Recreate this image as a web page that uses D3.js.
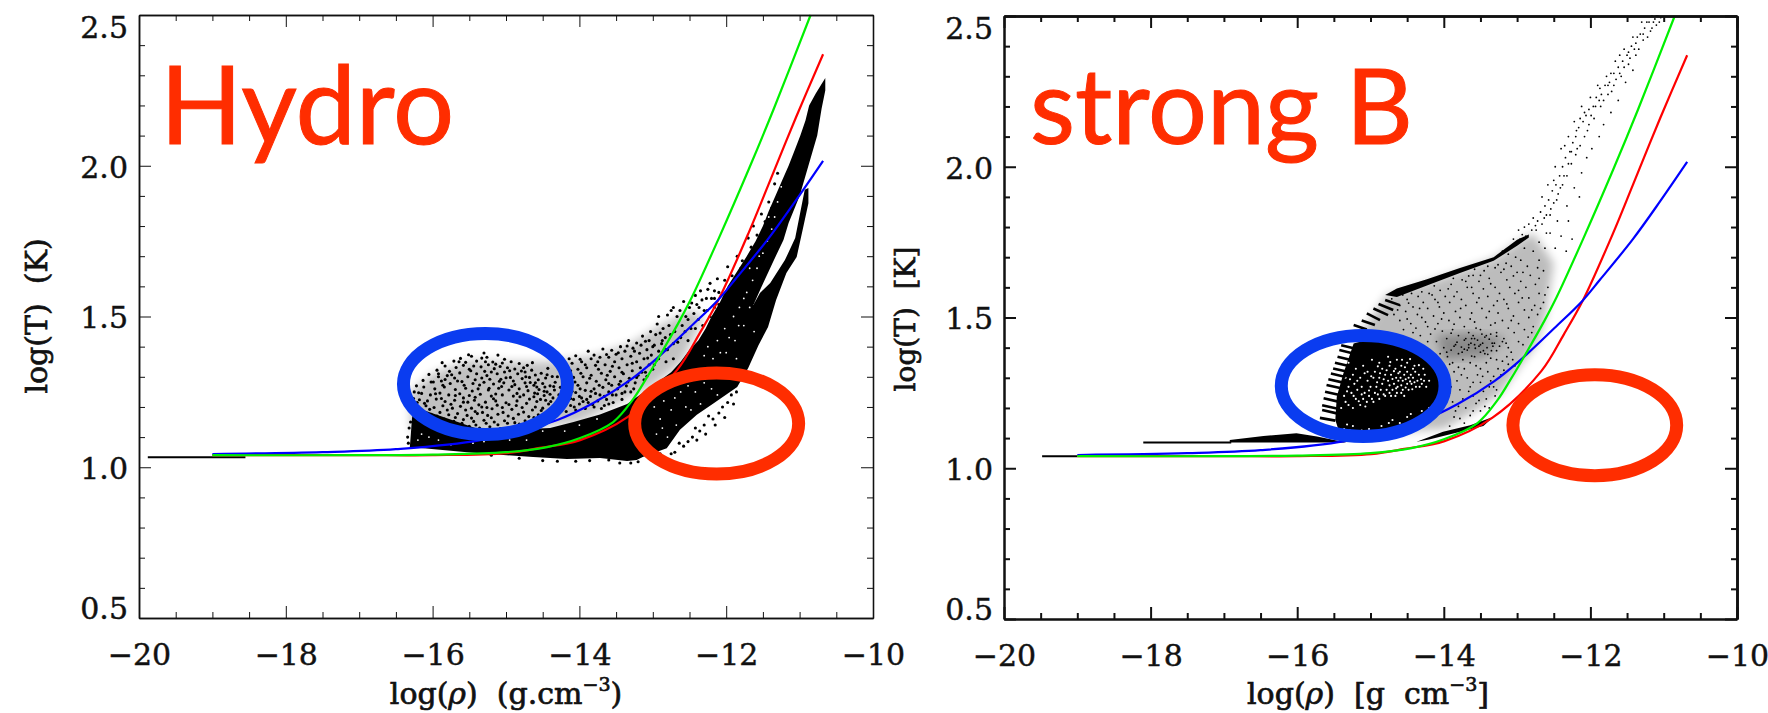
<!DOCTYPE html>
<html>
<head>
<meta charset="utf-8">
<script src="https://cdn.jsdelivr.net/npm/d3@7"></script>
<style>
    body { margin: 0; background: #fff; }
    text { font-family: "DejaVu Serif", serif; fill: #111; white-space: pre; }
    .tick text { stroke: #111; stroke-width: 0.45; }
    .title { font-family: Lato, sans-serif; fill: #ff2d00; stroke: #ff2d00; stroke-width: 1; }
</style>
</head>
<body>
<div id="chart"></div>
<script>
// Axis ticks
var xMajor = [-20, -18, -16, -14, -12, -10];
var xMinor = [-19.5, -19, -18.5, -17.5, -17, -16.5, -15.5, -15, -14.5, -13.5, -13, -12.5, -11.5, -11, -10.5];
var yMajor = [0.5, 1.0, 1.5, 2.0, 2.5];
var yMinor = [0.6, 0.7, 0.8, 0.9, 1.1, 1.2, 1.3, 1.4, 1.6, 1.7, 1.8, 1.9, 2.1, 2.2, 2.3, 2.4];

// Model curves, the same in both panels [log rho, log T]
var greenCurve = [[-19, 1.04], [-17, 1.04], [-16, 1.042], [-15, 1.05], [-14.44, 1.067], [-13.99, 1.097], [-13.54, 1.15], [-13.27, 1.225], [-13.08, 1.298], [-12.86, 1.389], [-12.63, 1.488], [-12.46, 1.568], [-12.1, 1.76], [-11.69, 1.99], [-11.35, 2.19], [-10.85, 2.5]];
var redCurve = [[-19, 1.04], [-17, 1.04], [-16, 1.04], [-14.99, 1.047], [-14.54, 1.064], [-13.99, 1.09], [-13.34, 1.167], [-12.67, 1.322], [-12.36, 1.445], [-12.1, 1.558], [-11.69, 1.78], [-11.42, 1.94], [-11.05, 2.16], [-10.68, 2.37]];
var blueCurve = [[-19, 1.044], [-17.5, 1.05], [-16.5, 1.06], [-15.35, 1.09], [-14.3, 1.157], [-13.81, 1.213], [-13.31, 1.289], [-12.94, 1.362], [-12.49, 1.465], [-12.11, 1.555], [-11.87, 1.625], [-11.42, 1.76], [-11.05, 1.885], [-10.68, 2.016]];

// Hand drawn rings [centre log rho, centre log T, radius in log rho, radius in log T]
var leftRings = [[-15.28, 1.276, 1.117, 0.1675, "#0a3cf0"], [-12.13, 1.145, 1.117, 0.1675, "#ff2d00"]];
var rightRings = [[-15.10, 1.273, 1.117, 0.1675, "#0a3cf0"], [-11.94, 1.143, 1.117, 0.1675, "#ff2d00"]];

// Cold flat parts of the tracks
var leftFlat = [[[-19.88, 1.033], [-18.55, 1.033]]];
var rightFlat = [[[-19.48, 1.04], [-19, 1.04]], [[-18.1, 1.085], [-16.9, 1.085]]];

// Solid black part of the hydro cloud, outline
var leftSolid = [[-16.31, 1.067], [-16.28, 1.163], [-16.25, 1.2], [-15.3, 1.12], [-14.4, 1.13], [-14.08, 1.15], [-13.72, 1.175], [-13.35, 1.21], [-13.0, 1.27], [-12.75, 1.315], [-12.62, 1.35], [-12.5, 1.39], [-12.38, 1.42], [-12.28, 1.46], [-12.2, 1.5], [-12.08, 1.55], [-11.98, 1.6], [-11.85, 1.65], [-11.72, 1.7], [-11.6, 1.75], [-11.5, 1.8], [-11.42, 1.85], [-11.33, 1.9], [-11.24, 1.95], [-11.15, 2.0], [-11.07, 2.05], [-10.99, 2.1], [-10.92, 2.15], [-10.87, 2.2], [-10.78, 2.24], [-10.65, 2.291], [-10.65, 2.25], [-10.7, 2.19], [-10.76, 2.1], [-10.88, 2.0], [-11.0, 1.9], [-11.15, 1.81], [-11.22, 1.754], [-11.37, 1.677], [-11.52, 1.598], [-11.63, 1.538], [-11.54, 1.578], [-11.4, 1.611], [-11.2, 1.687], [-11.06, 1.76], [-10.93, 1.92], [-10.88, 1.926], [-10.88, 1.876], [-10.95, 1.797], [-11.04, 1.697], [-11.18, 1.644], [-11.32, 1.555], [-11.43, 1.465], [-11.56, 1.405], [-11.7, 1.329], [-11.85, 1.266], [-12.17, 1.212], [-12.4, 1.174], [-12.63, 1.124], [-12.81, 1.063], [-13.13, 1.035], [-13.22, 1.024], [-13.35, 1.021], [-13.72, 1.031], [-14.17, 1.027], [-14.63, 1.034], [-14.99, 1.04], [-15.53, 1.05]];

// Soft tone behind the loose dots of the hydro cloud
var leftHaze = [[-16.3, 1.25], [-16.0, 1.31], [-15.5, 1.355], [-15.0, 1.35], [-14.4, 1.35], [-13.8, 1.37], [-13.3, 1.41], [-12.9, 1.47], [-12.5, 1.52], [-12.3, 1.5], [-12.6, 1.35], [-13.0, 1.27], [-14.0, 1.15], [-15.0, 1.12], [-16.3, 1.12]];

// Single dots of the hydro cloud
var leftDots = [
[-15.62,1.361],[-15.47,1.368],[-15.3,1.379],[-15.26,1.365],[-15.11,1.372],[-15.02,1.358],[-15.71,1.352],[-15.55,1.348],[-15.4,1.352],[-15.18,1.349],[-14.93,1.35],[-14.82,1.344],[-14.71,1.338],[-15.83,1.336],[-15.68,1.331],[-15.58,1.338],[-15.34,1.333],[-15.24,1.34],[-15.08,1.334],[-14.98,1.33],[-14.88,1.326],[-14.65,1.322],[-15.94,1.322],[-15.77,1.318],[-15.63,1.313],[-15.48,1.32],[-15.4,1.31],[-15.2,1.316],[-15.12,1.31],[-15.02,1.316],[-14.84,1.31],[-14.74,1.316],[-14.6,1.306],[-14.52,1.312],
[-16.05,1.308],[-15.92,1.3],[-15.8,1.304],[-15.7,1.296],[-15.52,1.3],[-15.33,1.296],[-15.26,1.304],[-15.07,1.292],[-14.94,1.298],[-14.78,1.294],[-14.68,1.298],[-14.56,1.29],[-14.46,1.296],[-16.13,1.288],[-16.02,1.283],[-15.88,1.286],[-15.76,1.278],[-15.6,1.284],[-15.45,1.278],[-15.3,1.282],[-15.17,1.276],[-15.03,1.28],[-14.88,1.274],[-14.74,1.28],[-14.62,1.272],[-14.5,1.278],[-14.4,1.27],
[-16.22,1.27],[-16.12,1.266],[-15.97,1.26],[-15.84,1.266],[-15.69,1.258],[-15.55,1.262],[-15.38,1.26],[-15.24,1.256],[-15.1,1.262],[-14.96,1.256],[-14.82,1.26],[-14.7,1.254],[-14.55,1.258],[-14.44,1.25],[-14.34,1.256],[-16.25,1.25],[-16.15,1.245],[-16.03,1.24],[-15.9,1.246],[-15.78,1.24],[-15.63,1.244],[-15.5,1.238],[-15.35,1.242],[-15.2,1.236],[-15.05,1.24],[-14.9,1.236],[-14.76,1.24],[-14.62,1.234],[-14.48,1.238],[-14.36,1.23],
[-16.26,1.228],[-16.18,1.224],[-16.07,1.22],[-15.95,1.226],[-15.83,1.218],[-15.7,1.222],[-15.58,1.216],[-15.43,1.222],[-15.28,1.216],[-15.14,1.22],[-15.0,1.214],[-14.85,1.22],[-14.72,1.212],[-14.58,1.218],[-14.42,1.21],[-16.28,1.206],[-16.2,1.2],[-16.09,1.204],[-15.98,1.198],[-15.86,1.204],[-15.73,1.196],[-15.62,1.202],[-15.47,1.196],[-15.33,1.2],[-15.19,1.194],[-15.05,1.198],[-14.92,1.192],[-14.78,1.198],[-14.64,1.19],[-14.5,1.196],
[-16.25,1.184],[-16.13,1.18],[-16.02,1.176],[-15.9,1.182],[-15.78,1.174],[-15.66,1.178],[-15.53,1.172],[-15.39,1.178],[-15.25,1.172],[-15.11,1.176],[-14.97,1.17],[-14.83,1.176],[-14.69,1.168],[-14.56,1.174],[-16.1,1.16],[-15.97,1.155],[-15.84,1.16],[-15.71,1.152],[-15.58,1.158],[-15.44,1.152],[-15.3,1.156],[-15.16,1.15],[-15.02,1.154],[-14.88,1.148],[-14.74,1.154],[-16.2,1.14],[-15.92,1.135],[-15.77,1.138],[-15.64,1.132],[-15.5,1.136],[-15.36,1.13],[-15.22,1.134],[-15.08,1.128],[-14.94,1.132],
[-15.66,1.286],[-15.22,1.292],[-14.9,1.286],[-15.5,1.325],[-15.14,1.342],[-14.76,1.33],[-14.58,1.266],[-15.06,1.268],[-15.42,1.29],[-15.86,1.272],[-15.96,1.244],[-15.58,1.23],[-15.12,1.206],[-14.68,1.226],[-14.4,1.242],[-14.46,1.222],[-15.42,1.185],[-14.6,1.2],
[-14.3,1.368],[-14.14,1.36],[-14.05,1.37],[-13.88,1.385],[-13.8,1.372],[-13.68,1.392],[-13.56,1.388],[-13.44,1.4],[-13.33,1.42],[-13.22,1.412],[-13.14,1.435],[-13.03,1.45],[-12.94,1.475],[-12.86,1.46],[-14.22,1.34],[-14.1,1.345],[-13.97,1.35],[-13.84,1.36],[-13.72,1.365],[-13.6,1.365],[-13.5,1.375],[-13.38,1.385],[-13.27,1.395],[-13.16,1.405],[-13.05,1.42],[-12.96,1.44],[-12.83,1.43],
[-14.24,1.315],[-14.12,1.32],[-14.02,1.325],[-13.9,1.33],[-13.78,1.338],[-13.65,1.34],[-13.52,1.35],[-13.42,1.36],[-13.3,1.368],[-13.18,1.378],[-13.08,1.39],[-12.98,1.405],[-12.88,1.41],[-14.2,1.29],[-14.08,1.298],[-13.95,1.3],[-13.84,1.305],[-13.7,1.312],[-13.58,1.318],[-13.46,1.33],[-13.35,1.34],[-13.22,1.35],[-13.12,1.36],[-13.02,1.372],[-12.92,1.385],[-14.26,1.265],[-14.14,1.27],[-14.02,1.272],[-13.9,1.28],[-13.77,1.285],[-13.64,1.29],[-13.52,1.3],[-13.4,1.31],[-13.28,1.32],[-13.17,1.33],[-13.05,1.34],[-12.95,1.355],
[-14.28,1.24],[-14.15,1.245],[-14.05,1.248],[-13.92,1.255],[-13.8,1.26],[-13.68,1.265],[-13.56,1.272],[-13.44,1.285],[-13.32,1.295],[-13.2,1.305],[-13.1,1.315],[-13.0,1.325],[-14.2,1.22],[-14.08,1.225],[-13.97,1.23],[-13.85,1.235],[-13.72,1.24],[-13.6,1.25],[-13.48,1.26],[-13.36,1.27],[-13.24,1.28],[-13.12,1.29],[-14.25,1.2],[-14.12,1.205],[-14.0,1.21],[-13.88,1.215],[-13.75,1.22],[-13.63,1.225],[-13.5,1.24],[-13.38,1.25],[-13.26,1.26],[-14.3,1.18],[-14.18,1.185],[-14.05,1.19],[-13.92,1.195],[-13.8,1.2],[-13.66,1.205],[-13.54,1.215],[-13.42,1.225],
[-12.75,1.52],[-12.67,1.5],[-12.58,1.55],[-12.5,1.53],[-12.42,1.57],[-12.35,1.585],[-12.27,1.56],[-12.22,1.61],[-12.16,1.585],[-12.12,1.625],[-12.78,1.47],[-12.7,1.45],[-12.6,1.47],[-12.52,1.49],[-12.44,1.51],[-12.37,1.53],[-12.3,1.52],[-12.2,1.56],[-12.1,1.58],[-12.02,1.62],[-12.82,1.39],[-12.72,1.41],[-12.62,1.43],[-12.52,1.42],[-12.42,1.46],[-12.32,1.47],[-12.22,1.5],[-12.1,1.54],
[-11.98,1.665],[-11.92,1.635],[-11.85,1.7],[-11.78,1.685],[-11.7,1.76],[-11.63,1.8],[-11.58,1.77],[-11.52,1.84],[-11.47,1.815],[-11.42,1.88],[-11.38,1.86],[-11.34,1.94],[-11.3,1.975],[-11.86,1.62],[-11.8,1.66],[-11.66,1.73],
[-12.05,1.2],[-11.98,1.215],[-11.93,1.24],[-11.86,1.25],[-12.1,1.18],[-12.18,1.16],[-12.24,1.17],[-12.3,1.14],[-12.36,1.12],[-12.42,1.13],[-12.46,1.1],[-12.52,1.085],[-12.58,1.07],[-12.64,1.08],[-12.7,1.05],[-12.75,1.045],[-12.15,1.14],[-12.28,1.11],[-12.4,1.09],[-12.02,1.165],[-11.9,1.21],
[-16.33,1.08],[-16.34,1.1],[-16.32,1.13],[-16.3,1.15],[-15.2,1.04],[-14.82,1.03],[-14.5,1.022],[-14.3,1.02],[-14.05,1.02],[-13.86,1.022],[-13.6,1.024],[-13.45,1.014],[-13.3,1.014],[-13.2,1.018],[-13.05,1.03],[-12.9,1.045],
[-15.87,1.347],[-15.51,1.373],[-15.44,1.336],[-15.33,1.362],[-15.16,1.327],[-15.05,1.346],[-14.79,1.319],[-14.64,1.347],[-14.43,1.328],[-14.37,1.301],[-15.99,1.283],[-16.19,1.247],[-15.74,1.307],[-15.57,1.272],[-15.46,1.253],[-15.29,1.318],[-15.14,1.243],[-15.0,1.297],[-14.85,1.245],[-14.67,1.281],[-14.53,1.225],[-14.33,1.282],[-14.47,1.266],[-16.11,1.212],[-15.88,1.228],[-15.75,1.209],[-15.52,1.216],[-15.37,1.207],[-15.23,1.262],[-15.17,1.227],[-14.96,1.208],[-14.81,1.234],[-14.61,1.246],[-14.39,1.218],[-16.04,1.192],[-15.8,1.19],[-15.69,1.165],[-15.47,1.163],[-15.32,1.182],[-15.2,1.164],[-15.04,1.182],[-14.9,1.162],[-14.76,1.183],[-14.62,1.165],[-14.52,1.188],[-16.17,1.165],[-15.94,1.17],[-15.6,1.146],[-15.41,1.14],[-15.27,1.146],[-15.11,1.141],[-14.98,1.146],[-14.82,1.143],
[-15.92,1.31],[-15.83,1.291],[-15.36,1.273],[-14.92,1.268],[-14.57,1.244],[-14.6,1.28],[-14.44,1.307],[-15.64,1.35],[-15.28,1.35],[-15.09,1.285],[-15.42,1.232],[-14.73,1.3],[-14.95,1.32],[-15.55,1.19],[-15.26,1.198],[-14.86,1.205],[-15.69,1.238],[-16.21,1.215],[-14.72,1.268],[-14.35,1.268],[-14.48,1.252],
[-14.27,1.352],[-14.17,1.336],[-13.99,1.358],[-13.92,1.34],[-13.75,1.35],[-13.63,1.374],[-13.47,1.38],[-13.35,1.402],[-13.25,1.385],[-13.1,1.418],[-13.0,1.4],[-12.9,1.445],[-14.3,1.3],[-14.16,1.305],[-14.06,1.283],[-13.98,1.312],[-13.86,1.295],[-13.74,1.325],[-13.62,1.305],[-13.55,1.335],[-13.42,1.315],[-13.28,1.345],[-13.15,1.315],[-13.07,1.362],[-12.98,1.34],[-14.22,1.258],[-14.1,1.252],[-13.99,1.26],[-13.84,1.252],[-13.73,1.272],[-13.6,1.278],[-13.46,1.275],[-13.34,1.283],[-13.22,1.298],[-13.08,1.302],[-14.12,1.228],[-14.0,1.235],[-13.9,1.225],[-13.78,1.245],[-13.66,1.235],[-13.55,1.24],[-13.42,1.245],[-13.3,1.25],[-14.21,1.205],[-14.07,1.2],[-13.95,1.218],[-13.82,1.208],[-13.7,1.195],[-13.6,1.21],
[-12.92,1.5],[-12.8,1.505],[-12.72,1.53],[-12.63,1.52],[-12.55,1.5],[-12.47,1.545],[-12.4,1.54],[-12.33,1.555],[-12.25,1.59],[-12.16,1.56],[-12.76,1.44],[-12.66,1.415],[-12.56,1.45],[-12.48,1.46],[-12.38,1.49],[-12.26,1.52],[-12.16,1.53],[-12.87,1.42],[-12.8,1.39],[-12.92,1.36],[-12.82,1.35],[-12.72,1.36]
];

// White specks left in the solid part of the hydro cloud
var leftHoles = [
[-16.15,1.11],[-15.92,1.09],[-15.6,1.1],[-15.45,1.08],[-15.22,1.1],[-14.95,1.09],[-15.75,1.075],[-14.72,1.09],[-14.5,1.12],[-14.2,1.12],[-14.0,1.14],[-13.76,1.16],[-16.05,1.1],[-15.85,1.13],[-15.3,1.085],[-16.2,1.09],
[-12.9,1.16],[-12.85,1.22],[-12.75,1.19],[-12.62,1.25],[-12.55,1.2],[-12.42,1.25],[-12.45,1.3],[-12.3,1.28],[-12.2,1.26],[-12.95,1.11],[-12.8,1.1],[-12.68,1.14],[-12.48,1.19],[-12.6,1.29],[-12.98,1.2],[-12.7,1.23],[-12.35,1.21],[-12.52,1.27],[-12.26,1.3],[-12.12,1.24],[-12.87,1.13],
[-12.25,1.4],[-12.12,1.42],[-12.02,1.46],[-12.18,1.36],[-12.0,1.38],[-11.9,1.5],[-11.82,1.53],[-11.88,1.42],[-11.76,1.47],[-11.72,1.58],[-11.64,1.62],[-11.58,1.66],[-11.5,1.71],[-11.44,1.75],[-11.38,1.79],[-11.34,1.83],[-11.68,1.53],[-11.62,1.45],[-11.86,1.36],[-12.1,1.32],[-11.95,1.31],[-11.42,1.83],[-11.3,1.88],[-11.25,1.93],[-11.55,1.7],[-11.76,1.56],[-11.96,1.43],[-12.08,1.38],[-12.3,1.37],[-11.83,1.47],[-11.68,1.66]
];

// Hazy and solid parts of the strong B cloud
var rightHaze = [[-14.78, 1.575], [-14.23, 1.615], [-13.78, 1.655], [-13.32, 1.695], [-13.0, 1.75], [-12.78, 1.78], [-12.5, 1.68], [-12.6, 1.514], [-12.73, 1.414], [-13.0, 1.326], [-13.23, 1.248], [-13.55, 1.193], [-14.0, 1.13], [-14.8, 1.12], [-15.2, 1.42]];
var rightBand = [[-14.1, 1.44], [-13.6, 1.45], [-13.15, 1.43], [-13.45, 1.37], [-14.0, 1.36]];
var rightRidge = [[-14.8, 1.575], [-14.64, 1.596], [-14.23, 1.627], [-13.78, 1.664], [-13.32, 1.7], [-13.0, 1.758], [-12.84, 1.775], [-12.84, 1.765], [-13.0, 1.738], [-13.32, 1.688], [-13.78, 1.648], [-14.23, 1.606], [-14.64, 1.568]];
var rightCore = [[-15.48, 1.16], [-15.46, 1.237], [-15.37, 1.314], [-15.26, 1.392], [-15.23, 1.414], [-14.73, 1.447], [-14.2, 1.38], [-14.0, 1.259], [-14.28, 1.15], [-14.96, 1.104], [-15.42, 1.115]];
var rightBase = [[-16.92, 1.094], [-16.46, 1.107], [-16.01, 1.116], [-15.73, 1.105], [-15.33, 1.085], [-16.92, 1.085]];
var rightTail = [[-14.37, 1.088], [-14.01, 1.121], [-13.64, 1.143], [-13.32, 1.171], [-13.46, 1.14], [-13.83, 1.118], [-14.2, 1.095]];

// Comb of teeth along the left edge of the strong B cloud [x1, y1, x2, y2]
var rightTeeth = [[-15.69,1.167,-15.48,1.158],[-15.66,1.193,-15.46,1.182],[-15.66,1.209,-15.46,1.198],[-15.64,1.232,-15.44,1.221],[-15.62,1.254,-15.42,1.243],[-15.6,1.276,-15.4,1.265],[-15.575,1.295,-15.37,1.284],[-15.54,1.314,-15.34,1.303],[-15.51,1.331,-15.31,1.32],[-15.485,1.35,-15.28,1.338],[-15.45,1.37,-15.25,1.358],[-15.425,1.392,-15.22,1.38],[-15.4,1.408,-15.2,1.396],[-15.23,1.475,-15.05,1.46],[-15.12,1.49,-14.94,1.475],[-15.05,1.514,-14.87,1.491],[-14.96,1.53,-14.76,1.508],[-14.89,1.545,-14.69,1.525],[-14.8,1.558,-14.6,1.541]];

// Single dots of the strong B cloud
var rightDots = [
[-14.5,1.56],[-14.35,1.57],[-14.2,1.58],[-14.05,1.59],[-13.9,1.61],[-13.75,1.625],[-13.6,1.64],[-13.45,1.655],[-13.3,1.665],[-13.15,1.68],[-14.6,1.54],[-14.42,1.535],[-14.28,1.55],[-14.12,1.56],[-13.98,1.57],[-13.82,1.585],[-13.68,1.6],[-13.52,1.62],[-13.38,1.63],[-13.22,1.65],[-13.08,1.67],[-12.95,1.69],[-14.68,1.51],[-14.52,1.52],[-14.36,1.51],[-14.22,1.53],[-14.06,1.535],[-13.92,1.55],[-13.76,1.56],[-13.6,1.58],[-13.46,1.595],[-13.3,1.6],[-13.14,1.625],[-13.0,1.65],[-12.86,1.67],[-12.78,1.72],
[-14.6,1.49],[-14.45,1.48],[-14.3,1.5],[-14.14,1.505],[-14.0,1.515],[-13.84,1.52],[-13.7,1.54],[-13.55,1.55],[-13.4,1.57],[-13.24,1.58],[-13.1,1.6],[-12.95,1.62],[-12.82,1.64],[-12.7,1.69],[-12.62,1.73],[-14.55,1.46],[-14.38,1.465],[-14.22,1.47],[-14.08,1.48],[-13.93,1.49],[-13.78,1.5],[-13.62,1.515],[-13.48,1.53],[-13.32,1.54],[-13.18,1.56],[-13.03,1.58],[-12.88,1.6],[-12.75,1.61],[-12.64,1.655],
[-14.32,1.44],[-14.18,1.445],[-14.02,1.455],[-13.88,1.46],[-13.72,1.47],[-13.58,1.485],[-13.42,1.5],[-13.26,1.515],[-13.12,1.53],[-12.98,1.55],[-12.84,1.565],[-12.7,1.58],[-12.58,1.6],[-14.1,1.42],[-13.96,1.43],[-13.8,1.44],[-13.66,1.45],[-13.5,1.46],[-13.36,1.475],[-13.2,1.49],[-13.05,1.505],[-12.9,1.525],[-12.76,1.54],[-12.64,1.55],
[-14.0,1.4],[-13.84,1.41],[-13.72,1.425],[-13.58,1.43],[-13.42,1.44],[-13.28,1.45],[-13.12,1.465],[-12.98,1.48],[-12.84,1.5],[-12.72,1.51],[-13.95,1.37],[-13.8,1.38],[-13.66,1.4],[-13.5,1.41],[-13.34,1.415],[-13.18,1.43],[-13.04,1.45],[-12.9,1.46],[-12.78,1.47],
[-14.02,1.34],[-13.88,1.35],[-13.74,1.36],[-13.58,1.37],[-13.44,1.38],[-13.28,1.39],[-13.12,1.4],[-12.98,1.42],[-12.85,1.435],[-14.0,1.31],[-13.86,1.32],[-13.72,1.33],[-13.56,1.34],[-13.42,1.35],[-13.28,1.36],[-13.14,1.37],[-13.98,1.28],[-13.82,1.29],[-13.68,1.3],[-13.54,1.31],[-13.4,1.32],[-13.26,1.33],[-13.12,1.345],[-13.92,1.25],[-13.78,1.26],[-13.64,1.27],[-13.5,1.285],[-13.36,1.29],[-13.22,1.31],[-13.88,1.22],[-13.74,1.23],[-13.6,1.24],[-13.46,1.255],[-13.32,1.27],[-13.84,1.19],[-13.7,1.2],[-13.56,1.215],[-13.42,1.23],[-13.3,1.24],[-13.78,1.165],[-13.64,1.175],[-13.5,1.19],[-13.38,1.2],[-13.92,1.14],[-13.72,1.15],
[-12.98,1.79],[-12.9,1.8],[-12.84,1.81],[-12.78,1.83],[-12.72,1.82],[-12.68,1.85],[-12.62,1.87],[-12.66,1.9],[-12.57,1.89],[-12.52,1.92],[-12.58,1.94],[-12.47,1.94],[-12.42,1.97],[-12.48,2.0],[-12.38,2.0],[-12.34,2.03],[-12.4,2.06],[-12.28,2.05],[-12.24,2.08],[-12.3,2.1],[-12.2,2.1],[-12.16,2.13],[-12.22,2.15],[-12.1,2.15],[-12.06,2.17],[-12.12,2.2],[-12.02,2.19],[-11.96,2.2],[-12.0,2.23],[-11.92,2.23],[-11.85,2.24],[-11.9,2.27],[-11.8,2.27],[-11.74,2.28],[-11.78,2.3],[-11.68,2.31],[-11.62,2.33],[-11.66,2.35],[-11.56,2.35],[-11.5,2.37],[-11.54,2.39],[-11.44,2.4],[-11.38,2.41],[-11.42,2.43],[-11.32,2.44],[-11.26,2.46],[-11.3,2.48],[-11.2,2.48],[-11.16,2.5],[-11.12,2.49],[-11.08,2.5],[-11.04,2.495],
[-13.05,1.76],[-12.96,1.76],[-12.88,1.77],[-12.8,1.79],[-12.74,1.79],[-12.66,1.81],[-12.6,1.84],[-12.54,1.86],[-12.5,1.88],[-12.44,1.91],[-12.38,1.94],[-12.32,1.97],[-12.26,2.01],[-12.2,2.04],[-12.14,2.07],[-12.08,2.1],[-12.02,2.14],[-11.95,2.16],[-11.86,2.2],[-11.76,2.24],[-11.68,2.27],[-11.58,2.3],[-11.48,2.34],[-11.38,2.37],[-11.28,2.42],[-11.18,2.45],[-11.1,2.47],
[-12.55,1.78],[-12.45,1.82],[-12.4,1.77],[-12.32,1.87],[-12.3,1.82],[-12.22,1.93],[-12.15,1.9],[-12.12,1.98],[-12.05,2.03],[-11.98,2.06],[-11.88,2.1],[-11.82,2.14],[-11.72,2.18],[-11.62,2.22],[-11.52,2.28],[-11.42,2.32],[-12.7,1.75],[-12.6,1.78],[-12.25,1.76],[-12.33,1.72],[-12.48,1.73],
[-13.82,1.418],[-13.76,1.402],[-13.7,1.43],[-13.68,1.392],[-13.63,1.415],[-13.6,1.44],[-13.57,1.398],[-13.54,1.425],[-13.5,1.385],[-13.47,1.415],[-13.44,1.435],[-13.41,1.4],[-13.38,1.428],[-13.35,1.39],[-13.31,1.415],[-13.28,1.438],[-13.24,1.405],[-13.2,1.42],[-13.75,1.385],[-13.62,1.372],[-13.58,1.41],[-13.52,1.405],[-13.46,1.39],[-13.4,1.378],[-13.33,1.405],[-13.66,1.41],[-13.72,1.395],[-13.86,1.405],[-13.9,1.392],[-13.96,1.385],[-13.62,1.43],[-13.48,1.445],[-13.36,1.445],[-13.15,1.415],
[-14.44,1.58],[-14.13,1.605],[-13.87,1.63],[-13.58,1.66],[-13.2,1.72],[-14.56,1.575],[-14.3,1.585],[-13.66,1.638],[-13.4,1.67],[-13.12,1.71],[-14.71,1.562],[-14.48,1.548],[-14.16,1.575],[-13.94,1.595],[-13.7,1.62],[-13.5,1.64],[-13.26,1.675],[-13.18,1.66],[-13.02,1.7],[-12.9,1.73],[-14.63,1.525],[-14.33,1.53],[-14.08,1.55],[-13.86,1.57],[-13.62,1.6],[-13.36,1.612],[-13.05,1.638],[-12.92,1.65],[-12.72,1.665],[-14.5,1.495],[-14.25,1.485],[-14.03,1.495],[-13.77,1.53],[-13.52,1.565],[-13.27,1.555],[-12.98,1.59],[-12.7,1.63],[-14.42,1.45],[-14.12,1.462],[-13.86,1.478],[-13.64,1.495],[-13.38,1.52],[-13.14,1.545],[-12.93,1.565],[-12.62,1.575],[-14.22,1.42],[-13.9,1.448],[-13.56,1.465],[-13.3,1.482],[-13.08,1.49],[-12.8,1.525],[-12.68,1.53],
[-14.05,1.38],[-14.1,1.36],[-13.92,1.345],[-13.64,1.35],[-13.36,1.365],[-13.08,1.385],[-12.92,1.41],[-12.8,1.45],[-14.08,1.325],[-13.8,1.335],[-13.5,1.33],[-13.2,1.355],[-13.06,1.36],[-14.03,1.295],[-13.76,1.31],[-13.47,1.305],[-13.18,1.325],[-13.03,1.34],[-13.9,1.27],[-13.6,1.285],[-13.32,1.305],[-13.95,1.235],[-13.66,1.255],[-13.38,1.27],[-13.8,1.205],[-13.52,1.225],[-13.28,1.26],[-13.86,1.17],[-13.6,1.19],[-13.44,1.205],
[-12.93,1.775],[-12.75,1.805],[-12.63,1.83],[-12.55,1.84],[-12.46,1.89],[-12.5,1.955],[-12.41,1.93],[-12.36,1.97],[-12.3,2.01],[-12.35,2.07],[-12.26,2.05],[-12.18,2.06],[-12.19,2.12],[-12.14,2.16],[-12.08,2.18],[-12.04,2.12],[-11.99,2.17],[-11.93,2.2],[-11.88,2.22],[-11.87,2.26],[-11.82,2.22],[-11.76,2.27],[-11.71,2.25],[-11.72,2.31],[-11.65,2.29],[-11.6,2.31],[-11.6,2.37],[-11.54,2.33],[-11.48,2.38],[-11.46,2.36],[-11.4,2.39],[-11.36,2.43],[-11.34,2.39],[-11.28,2.44],[-11.23,2.48],[-11.22,2.43],[-11.16,2.46],[-11.14,2.48],[-11.1,2.5],[-11.06,2.48]
];

// White specks left in the solid core of the strong B cloud
var rightHoles = [
[-15.3,1.35],[-15.2,1.33],[-15.1,1.34],[-14.98,1.36],[-14.88,1.35],[-14.76,1.37],[-14.64,1.36],[-14.5,1.35],[-14.4,1.34],[-14.28,1.33],[-15.34,1.3],[-15.24,1.31],[-15.14,1.3],[-15.04,1.32],[-14.94,1.32],[-14.84,1.33],[-14.74,1.34],[-14.66,1.33],[-14.58,1.34],[-14.5,1.32],[-14.42,1.33],[-14.34,1.31],[-14.26,1.31],[-14.2,1.29],
[-15.3,1.27],[-15.22,1.28],[-15.12,1.27],[-15.04,1.29],[-14.96,1.3],[-14.88,1.3],[-14.8,1.31],[-14.72,1.31],[-14.65,1.3],[-14.6,1.32],[-14.54,1.31],[-14.48,1.3],[-14.42,1.3],[-14.36,1.29],[-14.3,1.28],[-14.24,1.27],[-15.26,1.25],[-15.18,1.26],[-15.08,1.25],[-15.0,1.27],[-14.92,1.27],[-14.84,1.28],[-14.76,1.29],[-14.68,1.28],[-14.62,1.29],[-14.56,1.29],[-14.5,1.28],[-14.44,1.28],[-14.38,1.27],
[-15.36,1.24],[-15.2,1.23],[-15.1,1.23],[-15.02,1.24],[-14.94,1.25],[-14.86,1.26],[-14.78,1.26],[-14.7,1.26],[-14.63,1.27],[-14.56,1.26],[-14.48,1.26],[-15.14,1.21],[-15.05,1.22],[-14.96,1.22],[-14.88,1.23],[-14.8,1.24],[-14.72,1.24],[-14.64,1.25],[-14.54,1.24],[-15.3,1.21],[-15.4,1.2],[-15.36,1.13],[-15.28,1.125],[-15.2,1.12],[-15.32,1.145],[-14.7,1.16],[-14.6,1.15],[-14.5,1.17],[-14.4,1.16],[-14.3,1.19],[-14.2,1.2],[-14.85,1.14],[-15.02,1.13],
[-14.73,1.352],[-14.57,1.36],[-14.46,1.362],[-14.34,1.342],[-14.62,1.315],[-14.53,1.335],[-14.45,1.31],[-14.39,1.32],[-14.31,1.295],[-14.68,1.322],[-14.78,1.325],[-14.9,1.338],[-15.08,1.315],[-15.18,1.29],[-15.28,1.295],[-14.99,1.305],[-14.87,1.315],[-14.7,1.296],[-14.59,1.3],[-14.52,1.295],[-14.46,1.288],[-14.4,1.285],[-14.33,1.27],[-14.27,1.29],[-14.58,1.275],[-14.65,1.265],[-14.74,1.275],[-14.82,1.295],[-14.91,1.285],[-15.02,1.258],[-15.12,1.245],[-15.23,1.24],[-15.32,1.255],[-14.52,1.268],[-14.43,1.262],[-14.82,1.245],[-14.9,1.245],[-14.98,1.23],[-15.07,1.205],[-15.16,1.222],[-14.66,1.24],[-14.58,1.25],[-14.74,1.25],[-15.24,1.2],[-15.34,1.22],[-15.3,1.11],[-15.24,1.14],[-15.12,1.125],[-14.92,1.12],[-14.75,1.15],[-14.45,1.18]
];

// Title, axis labels and y tick offsets
var leftTitle = "Hydro";
var rightTitle = "strong B";
var yTickShift = { "0.5": 0, "1.0": 11, "1.5": 11, "2.0": 12, "2.5": 22 };

function drawPanel(svg, p) {
    var x = d3.scaleLinear().domain([-20, -10]).range([p.left, p.right]);
    var y = d3.scaleLinear().domain([0.5, 2.5]).range([p.bottom, p.top]);

    var line = d3.line()
        .x(function(d) { return x(d[0]); })
        .y(function(d) { return y(d[1]); });
    var smooth = d3.line()
        .x(function(d) { return x(d[0]); })
        .y(function(d) { return y(d[1]); })
        .curve(d3.curveCatmullRom.alpha(0.5));

    // Soft tone under the dots
    svg.selectAll(null).data(p.haze).enter().append("path")
        .attr("d", function(d) { return line(d) + "Z"; })
        .attr("fill", "#000")
        .attr("opacity", p.hazeOpacity)
        .attr("filter", "url(#soft)");

    // Solid parts of the cloud
    svg.selectAll(null).data(p.solids).enter().append("path")
        .attr("d", function(d) { return line(d) + "Z"; })
        .attr("fill", "#000");

    svg.selectAll(null).data(p.holes).enter().append("circle")
        .attr("cx", function(d) { return x(d[0]); })
        .attr("cy", function(d) { return y(d[1]); })
        .attr("r", p.holeSize)
        .attr("fill", "#fff");

    svg.selectAll(null).data(p.dots).enter().append("circle")
        .attr("cx", function(d) { return x(d[0]); })
        .attr("cy", function(d) { return y(d[1]); })
        .attr("r", p.dotSize)
        .attr("fill", "#000");

    svg.selectAll(null).data(p.teeth).enter().append("line")
        .attr("x1", function(d) { return x(d[0]); })
        .attr("y1", function(d) { return y(d[1]); })
        .attr("x2", function(d) { return x(d[2]); })
        .attr("y2", function(d) { return y(d[3]); })
        .attr("stroke", "#000")
        .attr("stroke-width", 2.6);

    svg.selectAll(null).data(p.flat).enter().append("path")
        .attr("d", line)
        .attr("fill", "none")
        .attr("stroke", "#000")
        .attr("stroke-width", 2);

    // Model curves
    [[redCurve, "#ff0000"], [blueCurve, "#0000ff"], [greenCurve, "#00f000"]].forEach(function(c) {
        svg.append("path")
            .attr("d", smooth(c[0]))
            .attr("fill", "none")
            .attr("stroke", c[1])
            .attr("stroke-width", 2.2);
    });

    // Axes with ticks on all four sides
    function addAxis(axis, tx, ty, major) {
        var g = svg.append("g")
            .attr("transform", "translate(" + tx + "," + ty + ")")
            .call(axis);
        g.selectAll("path, line")
            .attr("stroke", "#111")
            .attr("stroke-width", major ? p.frame : p.tickWidth);
        return g;
    }
    var bottom = addAxis(d3.axisBottom(x).tickValues(xMajor).tickSize(-12).tickSizeOuter(0), 0, p.bottom, false);
    bottom.selectAll("text").attr("font-size", 30).attr("y", 47).attr("dy", 0);
    bottom.select(".domain").attr("stroke-width", p.frameThin);
    addAxis(d3.axisBottom(x).tickValues(xMinor).tickSize(-6).tickSizeOuter(0).tickFormat(""), 0, p.bottom, false)
        .select(".domain").attr("stroke-width", p.frameThin);
    addAxis(d3.axisTop(x).tickValues(xMajor).tickSize(-12).tickSizeOuter(0).tickFormat(""), 0, p.top, true)
        .selectAll("line").attr("stroke-width", p.tickWidth);
    addAxis(d3.axisTop(x).tickValues(xMinor).tickSize(-6).tickSizeOuter(0).tickFormat(""), 0, p.top, true)
        .selectAll("line").attr("stroke-width", p.tickWidth);

    var leftAxis = addAxis(d3.axisLeft(y).tickValues(yMajor).tickSize(-12).tickSizeOuter(0).tickFormat(d3.format(".1f")), p.left, 0, false);
    leftAxis.selectAll("text")
        .attr("font-size", 30)
        .attr("x", -11)
        .attr("y", function(d) { return yTickShift[d.toFixed(1)]; })
        .attr("dy", 0);
    leftAxis.select(".domain").attr("stroke-width", p.frameThin);
    addAxis(d3.axisLeft(y).tickValues(yMinor).tickSize(-6).tickSizeOuter(0).tickFormat(""), p.left, 0, false)
        .select(".domain").attr("stroke-width", p.frameThin);
    addAxis(d3.axisRight(y).tickValues(yMajor).tickSize(-12).tickSizeOuter(0).tickFormat(""), p.right, 0, true)
        .selectAll("line").attr("stroke-width", p.tickWidth);
    addAxis(d3.axisRight(y).tickValues(yMinor).tickSize(-6).tickSizeOuter(0).tickFormat(""), p.right, 0, true)
        .selectAll("line").attr("stroke-width", p.tickWidth);

    // Axis titles
    var xLabel = svg.append("text")
        .attr("x", p.xLabelX)
        .attr("y", 704)
        .attr("text-anchor", "middle")
        .attr("font-size", 30)
        .attr("stroke", "#111")
        .attr("stroke-width", 0.7);
    xLabel.append("tspan").text("log(");
    xLabel.append("tspan").attr("font-style", "italic").text("ρ");
    xLabel.append("tspan").text(p.xUnit[0]);
    xLabel.append("tspan").attr("font-size", 19).attr("dy", -13).text("−3");
    xLabel.append("tspan").attr("dy", 13).text(p.xUnit[1]);

    svg.append("text")
        .attr("transform", "translate(" + p.yLabelX + "," + p.yLabelY + ") rotate(-90)")
        .attr("text-anchor", "middle")
        .attr("font-size", p.yLabelSize)
        .attr("stroke", "#111")
        .attr("stroke-width", 0.7)
        .text(p.yLabel);

    // Rings go over the cloud
    svg.selectAll(null).data(p.rings).enter().append("ellipse")
        .attr("cx", function(d) { return x(d[0]); })
        .attr("cy", function(d) { return y(d[1]); })
        .attr("rx", function(d) { return x(d[0] + d[2]) - x(d[0]); })
        .attr("ry", function(d) { return y(d[1]) - y(d[1] + d[3]); })
        .attr("fill", "none")
        .attr("stroke", function(d) { return d[4]; })
        .attr("stroke-width", 13);

    svg.append("text")
        .attr("class", "title")
        .attr("x", p.titleX)
        .attr("y", 144)
        .attr("font-size", p.titleSize)
        .text(p.title);
}

function init() {
    var svg = d3.select("#chart")
        .append("svg")
        .attr("width", 1768)
        .attr("height", 713);

    svg.append("defs").append("filter")
        .attr("id", "soft")
        .append("feGaussianBlur")
        .attr("stdDeviation", 5);

    drawPanel(svg, {
        left: 139, right: 873, top: 15, bottom: 618,
        frame: 1.3, frameThin: 1.5, tickWidth: 1,
        haze: [leftHaze], hazeOpacity: 0.24, solids: [leftSolid], holes: leftHoles, holeSize: 0.9, dots: leftDots, dotSize: 1.55,
        teeth: [], flat: leftFlat, rings: leftRings,
        title: leftTitle, titleX: 160, titleSize: 108,
        xUnit: [")  (g.cm", ")"], xLabelX: 506, yLabel: "log(T)  (K)", yLabelSize: 30, yLabelX: 47, yLabelY: 316
    });

    drawPanel(svg, {
        left: 1004, right: 1737, top: 16, bottom: 619,
        frame: 2.6, frameThin: 2, tickWidth: 2,
        haze: [rightHaze, rightBand], hazeOpacity: 0.26, solids: [rightRidge, rightCore, rightBase, rightTail], holes: rightHoles, holeSize: 1.05, dots: rightDots, dotSize: 0.9,
        teeth: rightTeeth, flat: rightFlat, rings: rightRings,
        title: rightTitle, titleX: 1030, titleSize: 104,
        xUnit: [")  [g  cm", "]"], xLabelX: 1368, yLabel: "log(T)  [K]", yLabelSize: 28, yLabelX: 915, yLabelY: 319
    });
}

window.onload = init;
</script>
</body>
</html>
